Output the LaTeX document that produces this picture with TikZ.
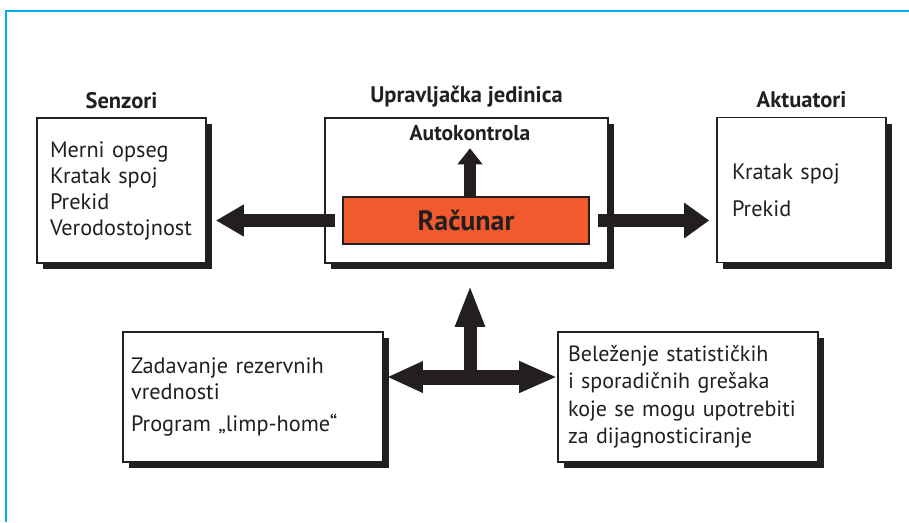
\documentclass[tikz,border=0pt]{standalone}
\usepackage{fontspec}
\setmainfont{PT Sans}
\usetikzlibrary{arrows.meta,shadows}
\definecolor{inkc}{RGB}{35,31,32}
\definecolor{racc}{RGB}{241,90,44}
\definecolor{framec}{RGB}{0,174,239}
\tikzset{
  infobox/.style={draw=inkc, line width=1.6pt, fill=white, text=inkc, align=left,
    general shadow={fill=inkc, shadow xshift=6pt, shadow yshift=-6pt},
    inner ysep=2pt, font=\fontsize{22.3}{26}\selectfont},
  title/.style={text=inkc, font=\bfseries\fontsize{22.5}{24}\selectfont},
  fat/.style={draw=inkc, line width=13pt}
}

\begin{document}
\begin{tikzpicture}[x=1pt,y=-1pt]
			%%%%% START %%%%%
			\useasboundingbox (0,0) rectangle (909,522);
			\draw[framec, line width=2.6pt] (909,11) -- (6,11) -- (6,522);
			
			\node[infobox, text width=143pt, inner xsep=13pt, minimum height=145pt] (sen) at (121.5,190.5) {Merni opseg\\Kratak spoj\\Prekid\\Verodostojnost};
			\node[infobox, minimum width=283pt, minimum height=145pt] (upr) at (466.5,190.5) {};
			\node[infobox, text width=139pt, inner xsep=15pt, minimum height=145pt] (akt) at (801.5,190) {Kratak spoj\\[11pt]Prekid};
			
			\node[title] (sentitle) at ([yshift=17pt]sen.north) {Senzori};
			\node[title] (uprtitle) at ([yshift=21pt]upr.north) {Upravljačka jedinica};
			\node[title] (akttitle) at ([yshift=17pt]akt.north) {Aktuatori};
			
			\node[draw=inkc, line width=1.2pt, fill=racc, text=inkc, minimum width=246pt, minimum height=47pt, font=\bfseries\fontsize{28}{30}\selectfont] (rac) at (466,220.5) {Računar};
			\node[title, font=\bfseries\fontsize{21.5}{23}\selectfont] (auto) at (470,133) {Autokontrola};
			
			\draw[fat, -{Triangle[length=28pt,width=30pt]}, shorten <=7pt, shorten >=9pt] (rac.west) -- (rac.west -| sen.east);
			\draw[fat, -{Triangle[length=25pt,width=34pt]}, shorten <=8pt, shorten >=7pt] (rac.east) -- (rac.east -| akt.west);
			\draw[draw=inkc, line width=12pt, -{Triangle[length=16pt,width=24pt]}, shorten >=4pt] (auto.south |- rac.north) -- (auto.south);
			
			\node[infobox, text width=244pt, inner xsep=8pt, minimum height=130pt] (rez) at (253,397) {Zadavanje rezervnih\\vrednosti\\[6pt]Program „limp-home“};
			\node[infobox, text width=240pt, inner xsep=10pt, minimum height=130pt, font=\fontsize{22}{27.5}\selectfont] (bel) at (688,397) {Beleženje statističkih\\i sporadičnih grešaka\\koje se mogu upotrebiti\\za dijagnosticiranje};
			
			\coordinate (tj) at (470,377);
			\draw[draw=inkc, line width=15pt, {Triangle[length=36pt,width=29pt]}-{Triangle[length=38pt,width=29pt]}, shorten <=3pt] (tj -| rez.east) -- (tj -| bel.west);
			\draw[draw=inkc, line width=13pt, -{Triangle[length=42pt,width=27pt]}, shorten >=21pt] (tj) -- (tj |- upr.south);
			%%%%% END %%%%%
\end{tikzpicture}
\end{document}
